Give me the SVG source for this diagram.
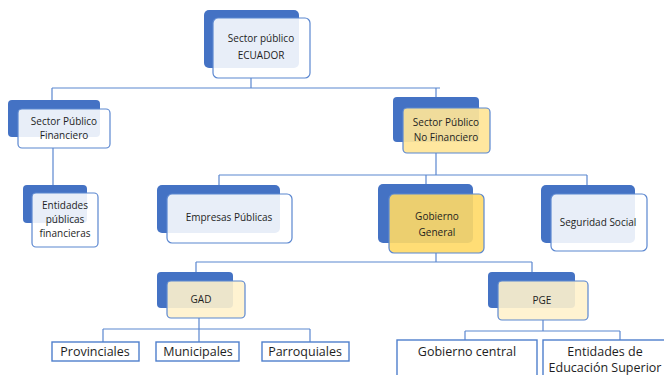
<svg xmlns="http://www.w3.org/2000/svg" width="664" height="375" viewBox="0 0 664 375">
<style>
.back{fill:#4472c4;}
.front{fill:#ffffff;fill-opacity:0.88;stroke:#5b87d0;stroke-width:1.2;}
.fy{fill:#ffe597;fill-opacity:0.92;stroke:#5b87d0;stroke-width:1.2;}
.fg{fill:#ffd966;fill-opacity:0.9;stroke:#5b87d0;stroke-width:1.2;}
.fc{fill:#fff2cc;fill-opacity:0.9;stroke:#5b87d0;stroke-width:1.2;}
.leaf{fill:#ffffff;stroke:#4f7fcc;stroke-width:1.4;}
.t{font-family:"Open Sans","Liberation Sans",sans-serif;font-size:10px;fill:#1e1e1e;text-anchor:middle;}
.tb{font-family:"Open Sans","Liberation Sans",sans-serif;font-size:12.5px;fill:#1e1e1e;text-anchor:middle;}
.c{fill:none;stroke:#5b87d0;stroke-width:1.2;}
</style>
<g id="connectors">
<path class="c" d="M251,78 V88 M52,88 H440 M52,88 V109 M436,88 V108"/>
<path class="c" d="M53,148 V193"/>
<path class="c" d="M436,153 V175 M219,175 H587 M219,175 V194 M426,175 V194 M587,175 V194"/>
<path class="c" d="M436,253 V262 M196,262 H532 M196,262 V281 M532,262 V281"/>
<path class="c" d="M199,318 V329 M103,329 H310 M103,329 V342 M199,329 V342 M310,329 V342"/>
<path class="c" d="M543,320 V331 M465,331 H620 M465,331 V340 M620,331 V340"/>
</g>
<g id="n-ecuador">
<rect class="back" x="204" y="10" width="95" height="58" rx="5"/>
<rect class="front" x="213" y="18" width="97" height="60" rx="5"/>
<text class="t" x="261" y="42">Sector público</text>
<text class="t" x="261" y="59">ECUADOR</text>
</g>
<g id="n-spf">
<rect class="back" x="8" y="100" width="92" height="37" rx="4"/>
<rect class="front" x="18" y="109" width="92" height="39" rx="4"/>
<text class="t" x="64" y="125">Sector Público</text>
<text class="t" x="64" y="139">Financiero</text>
</g>
<g id="n-epf">
<rect class="back" x="23" y="185" width="64" height="38" rx="4"/>
<rect class="front" x="32" y="193" width="66" height="54" rx="4"/>
<text class="t" x="65" y="209">Entidades</text>
<text class="t" x="65" y="223">públicas</text>
<text class="t" x="65" y="237">financieras</text>
</g>
<g id="n-spnf">
<rect class="back" x="393" y="97" width="86" height="45" rx="4"/>
<rect class="fy" x="403" y="108" width="87" height="45" rx="4"/>
<text class="t" x="446" y="126">Sector Público</text>
<text class="t" x="446" y="141">No Financiero</text>
</g>
<g id="n-empresas">
<rect class="back" x="157" y="185" width="123" height="48" rx="5"/>
<rect class="front" x="167" y="194" width="125" height="49" rx="5"/>
<text class="t" x="229" y="221">Empresas Públicas</text>
</g>
<g id="n-gg">
<rect class="back" x="378" y="184" width="95" height="59" rx="5"/>
<rect class="fg" x="389" y="194" width="95" height="59" rx="5"/>
<text class="t" x="437" y="220">Gobierno</text>
<text class="t" x="437" y="236">General</text>
</g>
<g id="n-ss">
<rect class="back" x="541" y="185" width="94" height="58" rx="5"/>
<rect class="front" x="551" y="194" width="96" height="57" rx="5"/>
<text class="t" x="598" y="226">Seguridad Social</text>
</g>
<g id="n-gad">
<rect class="back" x="157" y="272" width="76" height="36" rx="4"/>
<rect class="fc" x="167" y="281" width="78" height="37" rx="4"/>
<text class="t" x="201" y="303">GAD</text>
</g>
<g id="n-pge">
<rect class="back" x="488" y="272" width="87" height="36" rx="4"/>
<rect class="fc" x="498" y="281" width="90" height="39" rx="4"/>
<text class="t" x="542" y="304">PGE</text>
</g>
<g id="n-prov">
<rect class="leaf" x="52" y="342" width="87" height="19"/>
<text class="tb" x="95" y="356">Provinciales</text>
</g>
<g id="n-mun">
<rect class="leaf" x="156" y="342" width="83" height="19"/>
<text class="tb" x="198" y="356">Municipales</text>
</g>
<g id="n-parr">
<rect class="leaf" x="262" y="342" width="87" height="19"/>
<text class="tb" x="305" y="356">Parroquiales</text>
</g>
<g id="n-gc">
<rect class="leaf" x="397" y="340" width="140" height="40"/>
<text class="tb" x="467" y="356">Gobierno central</text>
</g>
<g id="n-ees">
<rect class="leaf" x="543" y="340" width="130" height="40"/>
<text class="tb" x="605" y="356">Entidades de</text>
<text class="tb" x="605" y="372">Educación Superior</text>
</g>
</svg>
